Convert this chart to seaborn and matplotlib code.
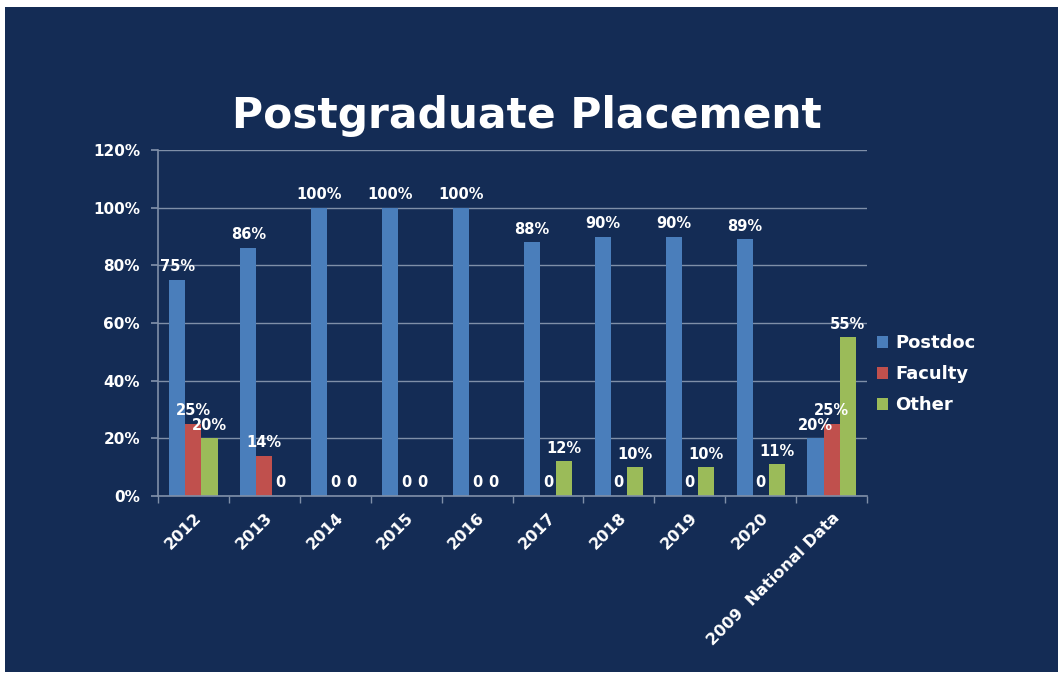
import matplotlib
matplotlib.use("Agg")
import matplotlib.pyplot as plt
import seaborn as sns
import pandas as pd
import numpy as np
from matplotlib.patches import Rectangle

categories = ["2012", "2013", "2014", "2015", "2016", "2017", "2018", "2019", "2020", "2009  National Data"]
postdoc = [75, 86, 100, 100, 100, 88, 90, 90, 89, 20]
faculty = [25, 14, 0, 0, 0, 0, 0, 0, 0, 25]
other = [20, 0, 0, 0, 0, 12, 10, 10, 11, 55]
series_names = ["Postdoc", "Faculty", "Other"]
yticks = [0, 20, 40, 60, 80, 100, 120]

BG = "#142c55"
GRID = "#7f8fa8"
colors = ["#4a7ebb", "#c0504d", "#9bbb59"]
FONT = ["DejaVu Sans"]

sns.set_theme(style="dark")
plt.rcParams["font.family"] = FONT

rows = []
for name, vals in zip(series_names, [postdoc, faculty, other]):
    for c, v in zip(categories, vals):
        rows.append({"cat": c, "val": v, "series": name})
df = pd.DataFrame(rows)

fig = plt.figure(figsize=(10.61, 6.77), dpi=100)
fig.patch.set_facecolor("white")
fig.patches.append(Rectangle((5 / 1061, 1 - 672 / 677), (1058 - 5) / 1061, (672 - 7) / 677,
                             transform=fig.transFigure, facecolor=BG, edgecolor="none", zorder=-10))

ax = fig.add_axes([158 / 1061, 1 - 496 / 677, (867 - 158) / 1061, (496 - 150) / 677])
ax.set_facecolor(BG)

sns.barplot(data=df, x="cat", y="val", hue="series", palette=colors, width=0.68,
            saturation=1, ax=ax, order=categories, hue_order=series_names, legend=True)

for cont in ax.containers:
    for bar in cont:
        bar.set_edgecolor("none")
    labels = [("%d%%" % v) if v > 0 else "0" for v in cont.datavalues]
    ax.bar_label(cont, labels=labels, padding=4, color="white", fontsize=10.5,
                 fontweight="bold", family=FONT)

ax.set_ylim(0, 120)
ax.set_yticks(yticks)
ax.set_yticklabels(["%d%%" % t for t in yticks], color="white", fontsize=11, fontweight="bold")
ax.set_xlim(-0.5, len(categories) - 0.5)
ax.set_xticks(range(len(categories)))
ax.set_xticklabels(categories, rotation=45, ha="right", rotation_mode="anchor",
                   color="white", fontsize=11.5, fontweight="bold")
ax.set_xticks(np.arange(-0.5, len(categories), 1), minor=True)
ax.tick_params(axis="x", which="major", length=0, pad=10)
ax.tick_params(axis="x", which="minor", length=5, color=GRID, direction="out", bottom=True)
ax.tick_params(axis="y", length=5, color=GRID, left=True, pad=8)
ax.set_xlabel("")
ax.set_ylabel("")

ax.grid(axis="y", color=GRID, linewidth=1)
ax.grid(axis="x", visible=False)
ax.set_axisbelow(True)
for s in ["top", "right"]:
    ax.spines[s].set_visible(False)
for s in ["left", "bottom"]:
    ax.spines[s].set_visible(True)
    ax.spines[s].set_color(GRID)
    ax.spines[s].set_linewidth(1.2)

leg = ax.legend(loc="upper left", bbox_to_anchor=(861 / 1061, 1 - 318 / 677),
                bbox_transform=fig.transFigure, frameon=False, handlelength=0.6,
                handleheight=0.6, handletextpad=0.4, labelspacing=0.72,
                prop={"family": FONT, "weight": "bold", "size": 13})
for t in leg.get_texts():
    t.set_color("white")
for h in leg.legend_handles:
    h.set_edgecolor("none")

fig.text(527 / 1061, 1 - 128 / 677, "Postgraduate Placement", ha="center", va="baseline",
         color="white", fontsize=30.5, fontweight="bold", family=FONT)

fig.savefig("out.png", dpi=100, facecolor=fig.get_facecolor())
